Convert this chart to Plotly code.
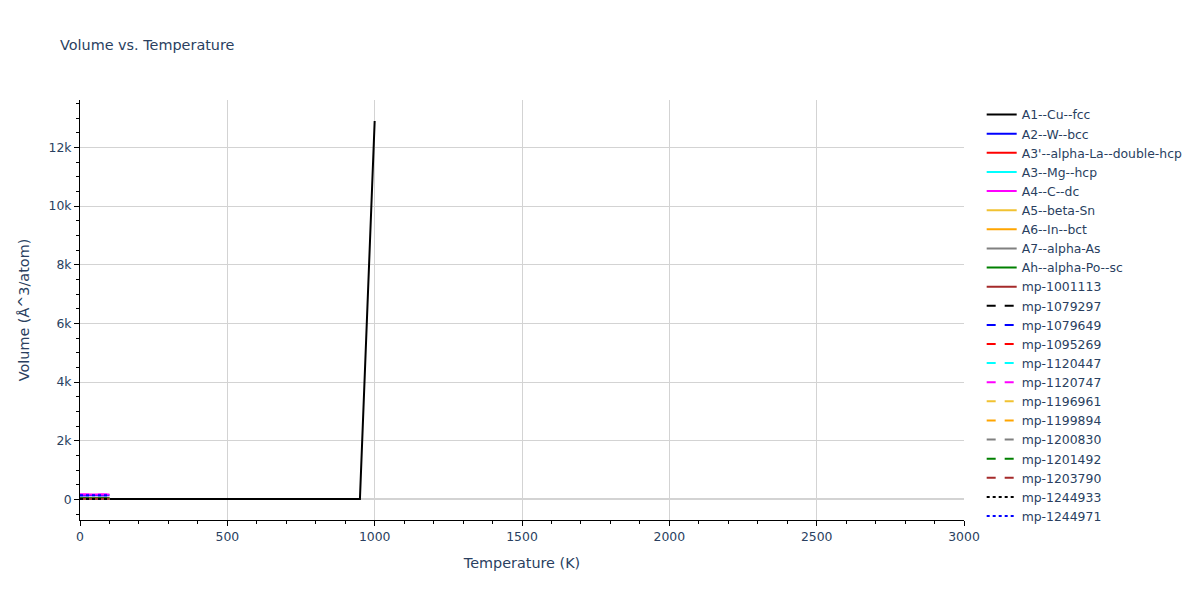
import plotly.graph_objects as go

# ---- data ----
names = [
    "A1--Cu--fcc", "A2--W--bcc", "A3'--alpha-La--double-hcp", "A3--Mg--hcp",
    "A4--C--dc", "A5--beta-Sn", "A6--In--bct", "A7--alpha-As", "Ah--alpha-Po--sc",
    "mp-1001113", "mp-1079297", "mp-1079649", "mp-1095269", "mp-1120447",
    "mp-1120747", "mp-1196961", "mp-1199894", "mp-1200830", "mp-1201492",
    "mp-1203790", "mp-1244933", "mp-1244971",
]
colors = [
    "black", "blue", "red", "cyan", "magenta", "#F1C232", "orange", "gray", "green",
    "brown", "black", "blue", "red", "cyan", "magenta", "#F1C232", "orange", "gray",
    "green", "brown", "black", "blue",
]
dashes = ["solid"] * 10 + ["dash"] * 10 + ["dot"] * 2

# A1--Cu--fcc temperatures / volumes
t_cu = [0, 50, 100, 150, 200, 250, 300, 350, 400, 450, 500, 550, 600, 650,
        700, 750, 800, 850, 900, 950, 1000]
v_cu = [11.8, 11.8, 11.8, 11.9, 11.9, 11.9, 12.0, 12.0, 12.1, 12.1, 12.2, 12.2,
        12.3, 12.3, 12.4, 12.5, 12.5, 12.6, 12.7, 12.8, 12900.0]

# other structures: 0 - 100 K
t_low = [0, 20, 40, 60, 80, 100]
v_low = {
    "A2--W--bcc":                [140, 140, 141, 141, 142, 142],
    "A3'--alpha-La--double-hcp": [37, 37, 37, 37, 38, 38],
    "A3--Mg--hcp":               [23, 23, 23, 23, 23, 24],
    "A4--C--dc":                 [165, 165, 166, 166, 167, 167],
    "A5--beta-Sn":               [30, 30, 30, 30, 31, 31],
    "A6--In--bct":               [27, 27, 27, 27, 27, 28],
    "A7--alpha-As":              [21, 21, 21, 21, 21, 22],
    "Ah--alpha-Po--sc":          [40, 40, 40, 40, 40, 41],
    "mp-1001113":                [18, 18, 18, 18, 18, 18],
    "mp-1079297":                [15, 15, 15, 15, 15, 15],
    "mp-1079649":                [138, 138, 138, 139, 139, 140],
    "mp-1095269":                [26, 26, 26, 26, 26, 27],
    "mp-1120447":                [33, 33, 33, 33, 34, 34],
    "mp-1120747":                [163, 163, 163, 164, 164, 165],
    "mp-1196961":                [28, 28, 28, 28, 29, 29],
    "mp-1199894":                [25, 25, 25, 25, 25, 26],
    "mp-1200830":                [20, 20, 20, 20, 20, 21],
    "mp-1201492":                [45, 45, 45, 45, 46, 46],
    "mp-1203790":                [19, 19, 19, 19, 19, 20],
    "mp-1244933":                [14, 14, 14, 14, 14, 14],
    "mp-1244971":                [136, 136, 136, 137, 137, 138],
}

fig = go.Figure()
for name, color, dash in zip(names, colors, dashes):
    if name == "A1--Cu--fcc":
        x, y = t_cu, v_cu
    else:
        x, y = t_low, v_low[name]
    fig.add_trace(go.Scatter(x=x, y=y, mode="lines", name=name,
                             line=dict(color=color, dash=dash, width=2)))

axis_common = dict(
    showgrid=True, gridcolor="lightgray", gridwidth=1,
    showline=True, linecolor="black", linewidth=1,
    ticks="outside", tickcolor="black", ticklen=5,
    zeroline=True, zerolinecolor="lightgray", zerolinewidth=2,
)
fig.update_layout(
    title=dict(text="Volume vs. Temperature", font=dict(size=14.4)),
    font=dict(family="DejaVu Sans", size=12.4),
    width=1200, height=600,
    template="plotly_white",
    plot_bgcolor="white", paper_bgcolor="white",
    legend=dict(maxheight=560),
    xaxis=dict(title=dict(text="Temperature (K)", font=dict(size=14.4)),
               range=[0, 3000], dtick=500,
               minor=dict(dtick=100, ticks="outside", ticklen=3, tickcolor="black", showgrid=False),
               **axis_common),
    yaxis=dict(title=dict(text="Volume (Å^3/atom)", font=dict(size=14.4)), dtick=2000,
               minor=dict(dtick=500, ticks="outside", ticklen=3, tickcolor="black", showgrid=False),
               **axis_common),
)

fig.write_html("out.html", config={"displayModeBar": False},
               post_script="document.body.style.margin='0';")
